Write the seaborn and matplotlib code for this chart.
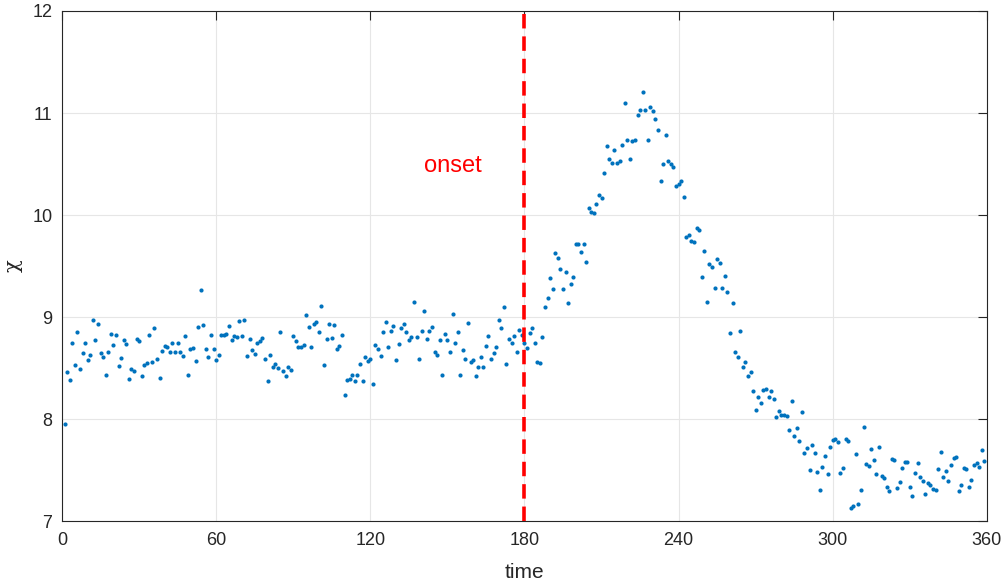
import numpy as np
import pandas as pd
import seaborn as sns
import matplotlib.pyplot as plt

# chi values, one per time step (t = 1 .. 359)
chi = [
    7.95, 8.46, 8.38, 8.75, 8.53, 8.85, 8.49, 8.65, 8.75, 8.58,
    8.63, 8.97, 8.77, 8.93, 8.65, 8.61, 8.43, 8.66, 8.83, 8.73,
    8.82, 8.52, 8.60, 8.77, 8.74, 8.39, 8.49, 8.47, 8.78, 8.76,
    8.42, 8.53, 8.55, 8.82, 8.56, 8.89, 8.59, 8.40, 8.67, 8.72,
    8.71, 8.66, 8.75, 8.66, 8.75, 8.66, 8.62, 8.81, 8.43, 8.69,
    8.70, 8.57, 8.90, 9.26, 8.92, 8.69, 8.61, 8.82, 8.69, 8.58,
    8.63, 8.82, 8.82, 8.83, 8.91, 8.77, 8.81, 8.80, 8.96, 8.81,
    8.97, 8.62, 8.78, 8.68, 8.64, 8.75, 8.76, 8.79, 8.59, 8.37,
    8.63, 8.51, 8.54, 8.50, 8.85, 8.47, 8.42, 8.51, 8.48, 8.81,
    8.76, 8.71, 8.71, 8.73, 9.02, 8.90, 8.71, 8.93, 8.95, 8.85,
    9.11, 8.53, 8.78, 8.93, 8.79, 8.92, 8.69, 8.72, 8.82, 8.24,
    8.38, 8.39, 8.43, 8.37, 8.43, 8.54, 8.37, 8.61, 8.57, 8.59,
    8.34, 8.73, 8.69, 8.62, 8.85, 8.95, 8.71, 8.86, 8.91, 8.58,
    8.74, 8.89, 8.93, 8.85, 8.77, 8.80, 9.15, 8.80, 8.59, 8.86,
    9.06, 8.78, 8.86, 8.90, 8.66, 8.63, 8.77, 8.43, 8.83, 8.77,
    8.66, 9.03, 8.75, 8.85, 8.43, 8.68, 8.59, 8.94, 8.56, 8.58,
    8.42, 8.51, 8.61, 8.51, 8.72, 8.81, 8.59, 8.65, 8.71, 8.97,
    8.89, 9.10, 8.54, 8.78, 8.75, 8.81, 8.66, 8.87, 8.82, 8.75,
    8.70, 8.84, 8.89, 8.75, 8.56, 8.55, 8.80, 9.10, 9.19, 9.38,
    9.27, 9.63, 9.58, 9.47, 9.27, 9.44, 9.14, 9.32, 9.39, 9.72,
    9.72, 9.64, 9.72, 9.54, 10.07, 10.03, 10.02, 10.11, 10.20, 10.17,
    10.41, 10.68, 10.55, 10.51, 10.64, 10.51, 10.53, 10.69, 11.10, 10.74,
    10.55, 10.73, 10.74, 10.98, 11.03, 11.21, 11.03, 10.74, 11.06, 11.02,
    10.94, 10.83, 10.33, 10.50, 10.78, 10.53, 10.50, 10.47, 10.28, 10.30,
    10.33, 10.18, 9.78, 9.80, 9.75, 9.74, 9.87, 9.85, 9.39, 9.65,
    9.15, 9.52, 9.49, 9.28, 9.57, 9.53, 9.28, 9.40, 9.25, 8.84,
    9.14, 8.66, 8.61, 8.86, 8.51, 8.56, 8.42, 8.46, 8.27, 8.09,
    8.22, 8.16, 8.28, 8.29, 8.22, 8.27, 8.20, 8.02, 8.08, 8.04,
    8.04, 8.03, 7.89, 8.18, 7.83, 7.91, 7.78, 8.07, 7.67, 7.72,
    7.50, 7.75, 7.67, 7.48, 7.30, 7.53, 7.64, 7.46, 7.73, 7.79,
    7.80, 7.77, 7.47, 7.52, 7.80, 7.78, 7.13, 7.15, 7.66, 7.17,
    7.30, 7.92, 7.56, 7.54, 7.71, 7.60, 7.46, 7.73, 7.44, 7.42,
    7.33, 7.29, 7.61, 7.60, 7.32, 7.38, 7.52, 7.58, 7.58, 7.33,
    7.25, 7.47, 7.57, 7.43, 7.39, 7.26, 7.37, 7.35, 7.31, 7.30,
    7.51, 7.68, 7.43, 7.49, 7.39, 7.55, 7.62, 7.63, 7.29, 7.35,
    7.52, 7.51, 7.33, 7.40, 7.55, 7.57, 7.53, 7.70, 7.59,
]
time = list(range(1, len(chi) + 1))

onset_time = 180
x_ticks = [0, 60, 120, 180, 240, 300, 360]
y_ticks = [7, 8, 9, 10, 11, 12]

df = pd.DataFrame({"time": time, "chi": chi})

sns.set_style("white")
plt.rcParams['font.family'] = ['Liberation Sans', 'DejaVu Sans']

fig = plt.figure(figsize=(10.05, 5.82), dpi=100)
ax = fig.add_axes([0.0617, 0.1048, 0.9203, 0.8763])

sns.scatterplot(data=df, x="time", y="chi", ax=ax, color="#0072BD",
                s=9, linewidth=0, zorder=3)

ax.axvline(onset_time, color="#FF0000", linestyle=(0, (4, 2.2)), linewidth=2.6, zorder=4)
ax.text(152, 10.48, "onset", color="#FF0000", fontsize=17, ha="center", va="center")

ax.set_xlim(0, 360)
ax.set_ylim(7, 12)
ax.set_xticks(x_ticks)
ax.set_yticks(y_ticks)
ax.grid(True, color="#e6e6e6", linewidth=0.8, zorder=0)
ax.set_axisbelow(True)

for side in ax.spines.values():
    side.set_color("#262626")
    side.set_linewidth(0.8)
ax.tick_params(direction="in", length=6.5, width=0.8, colors="#262626",
               labelsize=13, top=True, right=True)
ax.tick_params(axis="x", pad=8)
ax.tick_params(axis="y", pad=7)

ax.set_xlabel("time", fontsize=15, color="#262626")
ax.set_ylabel("χ", fontsize=15, color="#262626", family=["DejaVu Serif"])
ax.xaxis.set_label_coords(0.5, -0.083)
ax.yaxis.set_label_coords(-0.042, 0.5)

fig.savefig("out.png", dpi=100)
